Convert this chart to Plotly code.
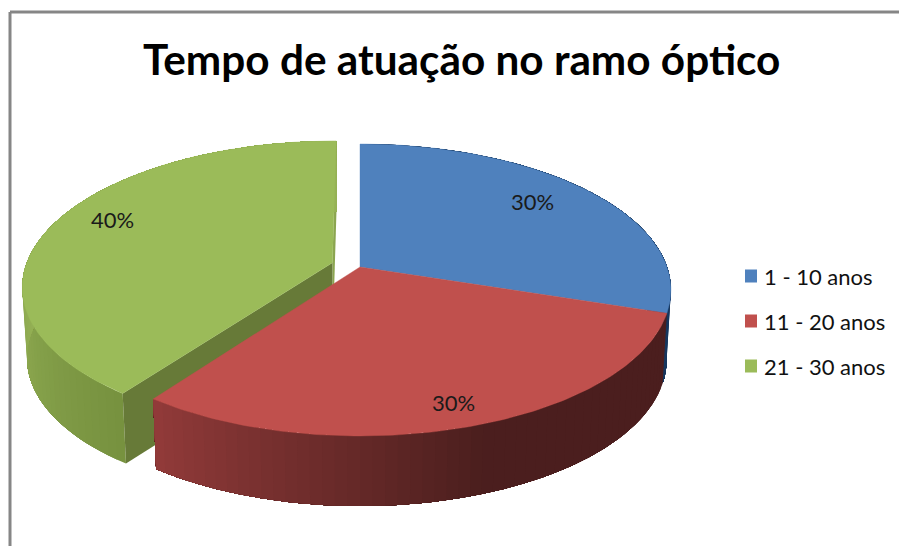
import math
import plotly.graph_objects as go

TITLE = "Tempo de atuação no ramo óptico"
CATEGORIES = ["1 - 10 anos", "11 - 20 anos", "21 - 30 anos"]
VALUES = [30, 30, 40]

W, H = 899, 546
TOP_COLORS = ["#4f81bd", "#c0504d", "#9bbb59"]
EXPLODE = [0, 0, 0.095]
LABEL_POS = [(532, 201), (453, 402), (112, 219)]
LEGEND_Y = [276, 321, 366]
FONT = "Lato, Carlito, Calibri, sans-serif"

CX, PERSP = 360, 0.1575
TOP_DISC = dict(d=307, a=-100.3, b=267)
BOT_DISC = dict(d=302.7, a=-89, b=337.3)


def project(u, v, disc):
    den = PERSP * v + 1
    return CX + disc["d"] * u / den, (disc["a"] * v + disc["b"]) / den


def mix(c0, c1, t):
    t = max(0, min(1, t))
    return "rgb(%d,%d,%d)" % tuple(round(p + (q - p) * t) for p, q in zip(c0, c1))


def plan(deg, off, r=1.0):
    t = math.radians(deg)
    return off[0] + r * math.sin(t), off[1] + r * math.cos(t)


def poly(fig, pts, color, edge=0.0):
    xs = [p[0] for p in pts]
    ys = [p[1] for p in pts]
    fig.add_trace(go.Scatter(x=xs + xs[:1], y=ys + ys[:1], mode="lines" if edge else "none",
                             fill="toself", fillcolor=color,
                             line=dict(color=color, width=edge),
                             hoverinfo="skip", showlegend=False))


def wall(fig, a0, a1, off, color_at, step=2.0):
    # each band reaches to the far end of the wall, so later bands cover it without seams
    n = max(1, int((a1 - a0) / step))
    for i in range(n):
        p = a0 + (a1 - a0) * i / n
        mid = a0 + (a1 - a0) * (i + 0.5) / n
        m = n - i
        angles = [p + (a1 - p) * j / m for j in range(m + 1)]
        plan_pts = [plan(a, off) for a in angles]
        poly(fig, [project(u, v, TOP_DISC) for u, v in plan_pts] +
             [project(u, v, BOT_DISC) for u, v in reversed(plan_pts)], color_at(mid))


def face(fig, deg, off, color):
    u, v = plan(deg, off)
    poly(fig, [project(off[0], off[1], TOP_DISC), project(u, v, TOP_DISC),
               project(u, v, BOT_DISC), project(off[0], off[1], BOT_DISC)], color)


def top(fig, a0, a1, off, color, step=1.0):
    n = int((a1 - a0) / step)
    pts = [project(off[0], off[1], TOP_DISC)]
    for i in range(n + 1):
        u, v = plan(a0 + (a1 - a0) * i / n, off)
        pts.append(project(u, v, TOP_DISC))
    poly(fig, pts, color, edge=0.4)


total = sum(VALUES)
edges = [0]
for val in VALUES:
    edges.append(edges[-1] + 360 * val / total)
spans = [(edges[i], edges[i + 1]) for i in range(len(VALUES))]
offs = []
for (a0, a1), e in zip(spans, EXPLODE):
    offs.append(plan((a0 + a1) / 2, (0, 0), e))

fig = go.Figure()

# green slice
a0, a1 = spans[2]
face(fig, a1, offs[2], "#8ba550")
wall(fig, a0, a1, offs[2],
     lambda d: mix((118, 145, 63), (150, 178, 86), (d - a0) / 60))
face(fig, a0, offs[2], "#677a38")
top(fig, a0, a1, offs[2], TOP_COLORS[2])

# blue slice
a0, a1 = spans[0]
wall(fig, a0, a1, offs[0], lambda d: "#17375e")
top(fig, a0, a1, offs[0], TOP_COLORS[0])

# red slice: drawn from the dark side toward the light side is not needed, bands run by angle
a0, a1 = spans[1]
wall(fig, a0, a1, offs[1],
     lambda d: mix((75, 30, 30), (146, 59, 57), (d - 160) / (a1 - 160)))
top(fig, a0, a1, offs[1], TOP_COLORS[1])

# legend
for name, color, y in zip(CATEGORIES, TOP_COLORS, LEGEND_Y):
    fig.add_shape(type="rect", x0=745, x1=757, y0=y - 6.5, y1=y + 6.5,
                  fillcolor=color, line_width=0, layer="above")
    fig.add_annotation(x=762, y=y, text=name, showarrow=False, xanchor="left", yanchor="middle",
                       font=dict(family=FONT, size=22, color="#111111"))

# data labels
for val, (x, y) in zip(VALUES, LABEL_POS):
    fig.add_annotation(x=x, y=y, text=f"{val}%", showarrow=False, xanchor="center", yanchor="middle",
                       font=dict(family=FONT, size=22, color="#1a1a1a"))

# title
fig.add_annotation(x=461, y=58, text=f"<b>{TITLE}</b>", showarrow=False, xanchor="center", yanchor="middle",
                   font=dict(family=FONT, size=42.3, color="#000000"))

# chart frame
fig.add_shape(type="line", x0=10, x1=10, y0=12, y1=H, line=dict(color="#868686", width=3), layer="above")
fig.add_shape(type="line", x0=10, x1=W, y0=12, y1=12, line=dict(color="#868686", width=3), layer="above")

fig.update_layout(width=W, height=H, margin=dict(l=0, r=0, t=0, b=0), autosize=False,
                  paper_bgcolor="white", plot_bgcolor="white", showlegend=False,
                  xaxis=dict(range=[0, W], visible=False, fixedrange=True),
                  yaxis=dict(range=[H, 0], visible=False, fixedrange=True))

fig.write_html("out.html", config={"displayModeBar": False},
               post_script="document.body.style.margin='0';document.body.style.overflow='hidden';")
